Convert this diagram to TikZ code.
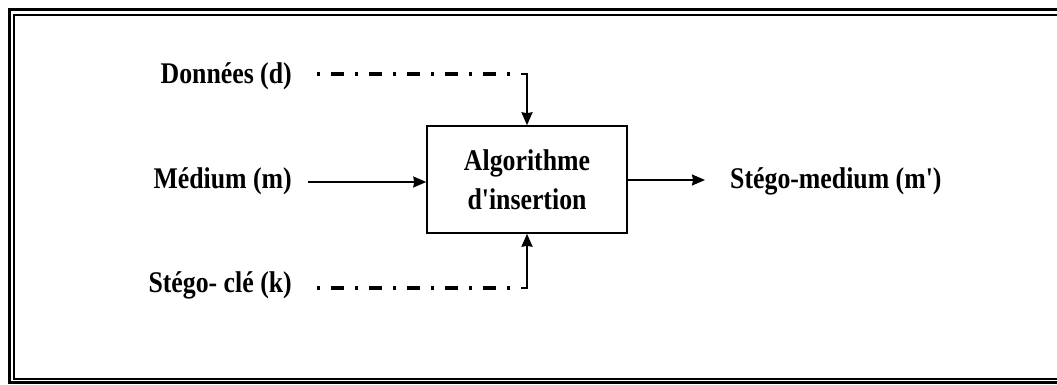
\documentclass[tikz,border=0pt]{standalone}
\usepackage{fontspec}
\setmainfont{Liberation Serif}[FakeStretch=0.86, Ligatures=TeXOff]
\usetikzlibrary{arrows.meta}
\begin{document}
\begin{tikzpicture}[x=1pt,y=1pt,
  lbl/.style={font=\fontsize{30}{39}\selectfont\bfseries, inner sep=0pt},
  algbox/.style={draw, line width=1.5pt, minimum width=200pt, minimum height=107pt, align=center, font=\fontsize{30}{39}\selectfont\bfseries, inner sep=0pt},
  solidarrow/.style={line width=1.5pt, -{Stealth[length=13pt,width=11pt,inset=1pt]}},
  dashline/.style={line width=3.2pt, dash pattern=on 3pt off 11pt on 13pt off 11pt},
  bendarrow/.style={line width=2pt, -{Stealth[length=13pt,width=11pt,inset=1pt]}},
]
\useasboundingbox (0,0) rectangle (1057,-385);
\clip (0,0) rectangle (1057,-385);
% frame
\draw[line width=3.5pt] (1080,-9.5) -- (9.5,-9.5) -- (9.5,-382.5) -- (1080,-382.5);
\draw[line width=2pt] (1080,-15) -- (14,-15) -- (14,-379) -- (1080,-379);
% box
\node[algbox] (alg) at (527,-179.5) {Algorithme\\d'insertion};
% labels
\node[lbl, anchor=east] (d) at (292,-76) {Données (d)};
\node[lbl, anchor=east] (m) at (292,-181) {Médium (m)};
\node[lbl, anchor=east] (k) at (292,-285) {Stégo- clé (k)};
\node[lbl, anchor=west] (out) at (730,-181) {Stégo-medium (m')};
% helper coordinates
\coordinate (ds) at (317,-74);
\coordinate (dc) at (527,-74);
\coordinate (ks) at (317,-288);
\coordinate (kc) at (527,-288);
\coordinate (ms) at (308,-182);
\coordinate (oe) at (705,-180);
% connectors
\draw[dashline] (ds) -- ([xshift=-6pt]dc);
\draw[bendarrow] ([xshift=-6pt]dc) -- (dc) -- (alg.north);
\draw[dashline] (ks) -- ([xshift=-6pt]kc);
\draw[bendarrow] ([xshift=-6pt]kc) -- (kc) -- (alg.south);
\draw[solidarrow] (ms) -- (alg.west |- ms);
\draw[solidarrow] (alg.east |- oe) -- (oe);
\end{tikzpicture}
\end{document}
